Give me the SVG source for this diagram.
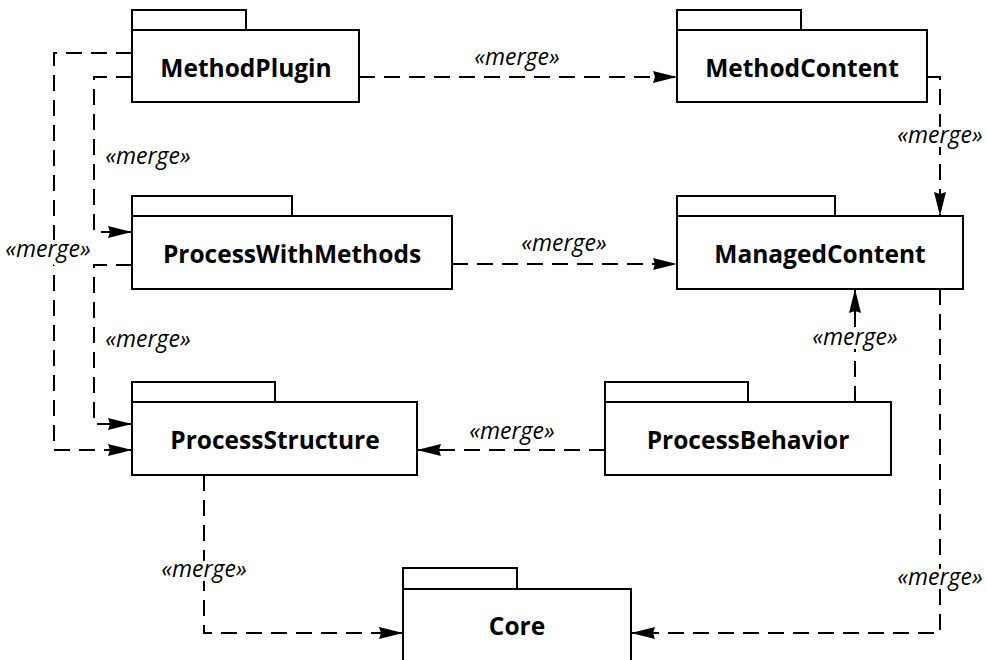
<svg xmlns="http://www.w3.org/2000/svg" width="987" height="660" viewBox="0 0 987 660">
  <style>
    .pkg rect { fill: #fff; stroke: #000; stroke-width: 2; }
    .name { font-family: "Open Sans", "DejaVu Sans", sans-serif; font-weight: bold; font-size: 24.5px; text-anchor: middle; fill: #000; }
    .conn path { fill: none; stroke: #000; stroke-width: 2; stroke-dasharray: 16 9; marker-end: url(#arrow); }
    .lbl { font-family: "Open Sans", "DejaVu Sans", sans-serif; font-style: italic; font-size: 23px; text-anchor: middle; fill: #000; stroke: #fff; stroke-width: 8; paint-order: stroke; stroke-linejoin: round; }
  </style>
  <defs>
    <marker id="arrow" viewBox="0 0 24 12" refX="24" refY="6" markerWidth="24" markerHeight="12" markerUnits="userSpaceOnUse" orient="auto">
      <path d="M0,0 L24,6 L0,12 L2,6 Z" fill="#000"/>
    </marker>
  </defs>
  <rect width="987" height="660" fill="#fff"/>

  <!-- merge dependencies -->
  <g id="connectors" class="conn">
    <path d="M359,77 H677"/>
    <path d="M132,77 H94 V232 H132"/>
    <path d="M132,53 H54 V450 H132"/>
    <path d="M452,264 H677"/>
    <path d="M132,265 H94 V424 H132"/>
    <path d="M927,77 H940 V216"/>
    <path d="M855,402 V289"/>
    <path d="M605,450 H417"/>
    <path d="M204,475 V633 H403"/>
    <path d="M940,289 V633 H631"/>
  </g>

  <g id="labels">
    <text class="lbl" x="517" y="65">«merge»</text>
    <text class="lbl" x="148" y="164">«merge»</text>
    <text class="lbl" x="48" y="257">«merge»</text>
    <text class="lbl" x="564" y="251">«merge»</text>
    <text class="lbl" x="148" y="347">«merge»</text>
    <text class="lbl" x="940" y="143">«merge»</text>
    <text class="lbl" x="855" y="345">«merge»</text>
    <text class="lbl" x="512" y="439">«merge»</text>
    <text class="lbl" x="204" y="577">«merge»</text>
    <text class="lbl" x="940" y="585">«merge»</text>
  </g>

  <g id="MethodPlugin" class="pkg">
    <rect x="132" y="10" width="114" height="20"/>
    <rect x="132" y="30" width="227" height="72"/>
    <text class="name" x="246" y="77">MethodPlugin</text>
  </g>
  <g id="MethodContent" class="pkg">
    <rect x="677" y="10" width="124" height="20"/>
    <rect x="677" y="30" width="250" height="72"/>
    <text class="name" x="802" y="77">MethodContent</text>
  </g>
  <g id="ProcessWithMethods" class="pkg">
    <rect x="132" y="196" width="160" height="20"/>
    <rect x="132" y="216" width="320" height="73"/>
    <text class="name" x="292" y="263">ProcessWithMethods</text>
  </g>
  <g id="ManagedContent" class="pkg">
    <rect x="677" y="196" width="158" height="20"/>
    <rect x="677" y="216" width="286" height="73"/>
    <text class="name" x="820" y="263">ManagedContent</text>
  </g>
  <g id="ProcessStructure" class="pkg">
    <rect x="132" y="382" width="143" height="20"/>
    <rect x="132" y="402" width="285" height="73"/>
    <text class="name" x="275" y="449">ProcessStructure</text>
  </g>
  <g id="ProcessBehavior" class="pkg">
    <rect x="605" y="382" width="143" height="20"/>
    <rect x="605" y="402" width="286" height="73"/>
    <text class="name" x="748" y="449">ProcessBehavior</text>
  </g>
  <g id="Core" class="pkg">
    <rect x="403" y="568" width="114" height="21"/>
    <rect x="403" y="589" width="228" height="80"/>
    <text class="name" x="517" y="635">Core</text>
  </g>
</svg>
